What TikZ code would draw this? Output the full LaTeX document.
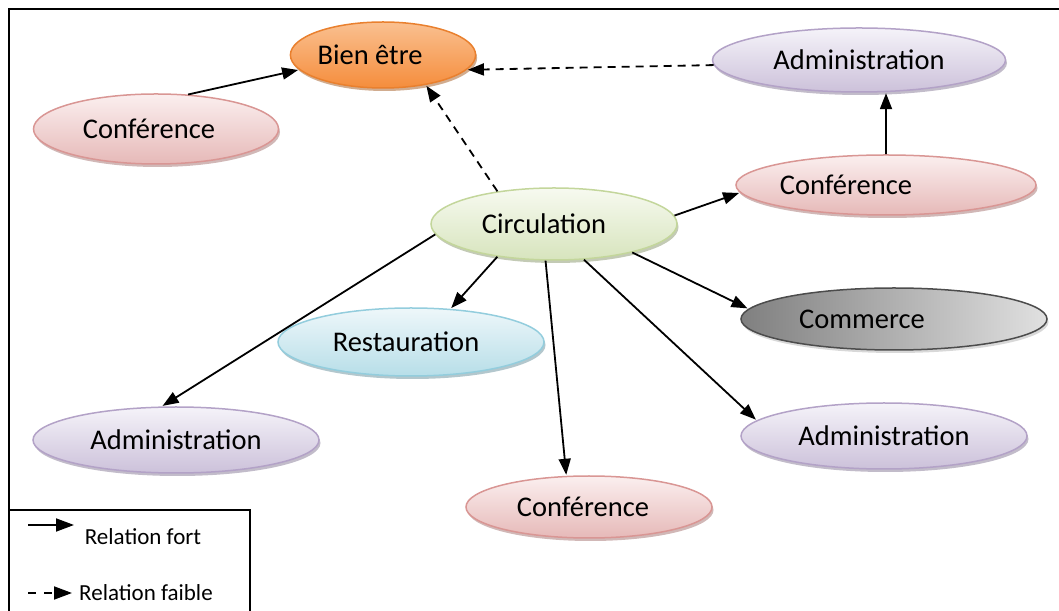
\documentclass[tikz,border=0pt]{standalone}
\usepackage{fontspec}
\setmainfont{Carlito}
\usetikzlibrary{shapes.geometric,positioning,shadows,arrows.meta}

\definecolor{confline}{HTML}{D99694}
\definecolor{conftop}{HTML}{FBEFEF}
\definecolor{confbot}{HTML}{E6B9B8}
\definecolor{admline}{HTML}{B3A2C7}
\definecolor{admtop}{HTML}{F5F3F9}
\definecolor{admbot}{HTML}{CCC1DA}
\definecolor{circline}{HTML}{C3D69B}
\definecolor{circtop}{HTML}{F7FAF0}
\definecolor{circbot}{HTML}{D7E4BD}
\definecolor{restline}{HTML}{93CDDD}
\definecolor{resttop}{HTML}{EEF7FA}
\definecolor{restbot}{HTML}{B7DEE8}
\definecolor{bienline}{HTML}{E9802E}
\definecolor{bientop}{HTML}{FAC090}
\definecolor{bienbot}{HTML}{F58D3C}

\tikzset{
  bubble/.style={ellipse, draw, line width=1.5pt, inner sep=0pt,
    font=\fontsize{28.5}{30}\selectfont,
    drop shadow={shadow xshift=1.5pt, shadow yshift=-3pt, fill=#1}},
  conf node/.style={bubble=confline!75!black, draw=confline, top color=conftop, bottom color=confbot},
  adm node/.style={bubble=admline!75!black, draw=admline, top color=admtop, bottom color=admbot},
  circ node/.style={bubble=circline!70!black, draw=circline, top color=circtop, bottom color=circbot},
  rest node/.style={bubble=restline!70!black, draw=restline, top color=resttop, bottom color=restbot},
  bien node/.style={bubble=bienline!70!black, draw=bienline, top color=bientop, bottom color=bienbot},
  comm node/.style={bubble=black!30, draw=black!70, left color=black!50, right color=black!12},
  weak/.style={dash pattern=on 8pt off 6pt},
  legend/.style={font=\fontsize{23}{25}\selectfont}
}

\begin{document}
\begin{tikzpicture}[->,>={Triangle[length=16pt,width=12pt]},shorten >=1pt,line width=1.8pt,x=1pt,y=1pt]

                \useasboundingbox (0,0) rectangle (1059,610);
                \draw[-, line width=2pt] (9,-10) rectangle (1075,601);

                \node[circ node, minimum width=246pt, minimum height=72pt] (circ) at (554,386) {Circulation\kern20pt};
                \node[bien node, minimum width=174pt, minimum height=66pt, on grid, above left=169pt and 171pt of circ] (bien) {Bien être\kern26pt};
                \node[adm node, minimum width=293pt, minimum height=64pt, on grid, above right=164pt and 305pt of circ] (adm1) {Administration};
                \node[conf node, minimum width=245pt, minimum height=70pt, on grid, above left=95pt and 398pt of circ] (conf1) {Conférence\kern14pt};
                \node[conf node, minimum width=293pt, minimum height=60pt, on grid, above right=39pt and 332pt of circ] (conf2) {Conférence\kern80pt};
                \node[rest node, minimum width=266pt, minimum height=68pt, on grid, below left=118pt and 143pt of circ] (rest) {Restauration\kern10pt};
                \node[comm node, minimum width=306pt, minimum height=62pt, on grid, below right=95pt and 340pt of circ] (comm) {Commerce\kern64pt};
                \node[adm node, minimum width=286pt, minimum height=66pt, on grid, below left=216pt and 378pt of circ] (adm2) {Administration};
                \node[adm node, minimum width=286pt, minimum height=66pt, on grid, below right=212pt and 330pt of circ] (adm3) {Administration};
                \node[conf node, minimum width=246pt, minimum height=62pt, on grid, below right=283pt and 35pt of circ] (conf3) {Conférence\kern12pt};

                \path
                    (conf1.47) edge (bien.-170)
                    (adm1.-178) edge[weak] (bien.-10)
                    (circ.150) edge[weak] (bien.-35)
                    (conf2.90) edge (adm1.-50)
                    (circ.4) edge (conf2.-177)
                    (circ.-20) edge (comm.176)
                    (circ.-50) edge (adm3.173)
                    (circ.-103) edge (conf3.126)
                    (circ.-150) edge (rest.40)
                    (circ.-175) edge (adm2.113)
                ;

                % legende
                \draw[-, line width=1.5pt] (9,-10) rectangle (250,100);
                \coordinate (fort1) at (28,85);
                \coordinate (fort2) at (75,85);
                \coordinate (faible1) at (28,17);
                \coordinate (faible2) at (73,17);
                \path[>={Triangle[length=18pt,width=13pt]}]
                    (fort1) edge (fort2)
                    (faible1) edge[dash pattern=on 8pt off 8pt] (faible2);
                \node[legend] (fort) at (143,73) {Relation fort};
                \node[legend] (faible) at (146,17) {Relation faible};
            \end{tikzpicture}
\end{document}
